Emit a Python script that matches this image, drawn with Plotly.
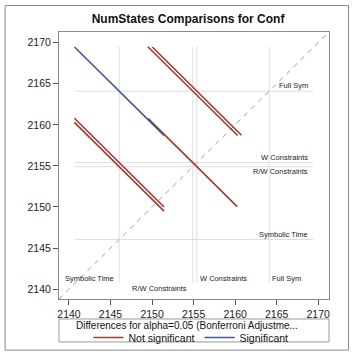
import plotly.graph_objects as go

# ---- data ----
levels = ["Symbolic Time", "R/W Constraints", "W Constraints", "Full Sym"]
means = [2146.05, 2154.9, 2155.4, 2164.1]
pair_i = [0, 0, 0, 1, 1, 2]
pair_j = [1, 2, 3, 2, 3, 3]
half_len = [5.40, 5.40, 5.38, 5.35, 5.40, 5.37]
significant = [False, False, True, False, False, False]
ticks = [2140, 2145, 2150, 2155, 2160, 2165, 2170]

RED = "#A23A2E"
BLUE = "#445694"
GRID = "#DEDEDE"
LO, HI = 2138.8, 2171.3
FONT = "Liberation Sans, Arial, sans-serif"
W, H = 354, 357

fig = go.Figure()

# reference lines at level means
for m in means:
    fig.add_shape(type="line", xref="x", yref="y", x0=m, x1=m, y0=2140.8, y1=2169.5,
                  line=dict(color=GRID, width=1), layer="below")
    fig.add_shape(type="line", xref="x", yref="y", y0=m, y1=m, x0=2140.7, x1=2169.4,
                  line=dict(color=GRID, width=1), layer="below")

# diagonal
fig.add_trace(go.Scatter(x=[LO, HI], y=[LO, HI], mode="lines",
                         line=dict(color="#A0A0A0", width=1, dash="5px,5px"),
                         showlegend=False, hoverinfo="skip"))

# segments: non-significant first, then significant
shown = {False: False, True: False}
for sig in (False, True):
    for a, b, h, s in zip(pair_i, pair_j, half_len, significant):
        if s != sig:
            continue
        xm, ym = means[a], means[b]
        fig.add_trace(go.Scatter(
            x=[xm - h, xm + h], y=[ym + h, ym - h], mode="lines",
            line=dict(color=BLUE if s else RED, width=1.6),
            name="Significant" if s else "Not significant",
            legendgroup="sig" if s else "ns",
            showlegend=not shown[s], hoverinfo="skip"))
        shown[s] = True

ann = []
lab_font = dict(family=FONT, size=7.5, color="#222222")
# bottom labels
ann.append(dict(x=means[0], y=2141.28, text=levels[0], xanchor="right", xshift=-3, showarrow=False, font=lab_font))
ann.append(dict(x=means[1], y=2140.12, text=levels[1], xanchor="right", xshift=-4, showarrow=False, font=lab_font))
ann.append(dict(x=means[2], y=2141.25, text=levels[2], xanchor="left", xshift=1, showarrow=False, font=lab_font))
ann.append(dict(x=means[3], y=2141.35, text=levels[3], xanchor="left", xshift=1, showarrow=False, font=lab_font))
# right labels
ann.append(dict(x=2169.0, y=means[3], text=levels[3], xanchor="right", yshift=6, showarrow=False, font=lab_font))
ann.append(dict(x=2169.0, y=means[2], text=levels[2], xanchor="right", yshift=5, showarrow=False, font=lab_font))
ann.append(dict(x=2169.0, y=means[1], text=levels[1], xanchor="right", yshift=-5, showarrow=False, font=lab_font))
ann.append(dict(x=2169.0, y=means[0], text=levels[0], xanchor="right", yshift=5, showarrow=False, font=lab_font))
for a in ann:
    a.update(xref="x", yref="y")

# legend title
ann.append(dict(xref="paper", yref="paper", x=0.475, y=(299.3 - 326.0) / 267.3,
                text="Differences for alpha=0.05 (Bonferroni Adjustme...",
                showarrow=False, xanchor="center", yanchor="middle",
                font=dict(family=FONT, size=10, color="#111111")))

shapes_extra = [
    # outer border
    dict(type="rect", xref="paper", yref="paper", x0=-0.1995, x1=1.0723, y0=-0.1915, y1=1.0991,
         line=dict(color="#8A8A8A", width=1)),
    # legend box
    dict(type="rect", xref="paper", yref="paper", x0=0, x1=1, y0=(299.3 - 342.3) / 267.3,
         y1=(299.3 - 319.3) / 267.3, line=dict(color="#9A9A9A", width=1)),
]
for s in shapes_extra:
    fig.add_shape(**s)

axis_common = dict(range=[LO, HI], tickvals=ticks, ticks="outside", ticklen=5, tickwidth=1,
                   tickcolor="#555555", showgrid=False, zeroline=False, showline=True,
                   linecolor="#8A8A8A", linewidth=1, mirror=True,
                   tickfont=dict(family=FONT, size=10.5, color="#222222"))

fig.update_layout(
    width=W, height=H,
    margin=dict(l=59, r=25, t=32, b=58, pad=0, autoexpand=False),
    paper_bgcolor="white", plot_bgcolor="white",
    title=dict(text="<b>NumStates Comparisons for Conf</b>", x=0.478, xref="paper", xanchor="center",
               y=1 - 19 / H, yref="container", yanchor="middle",
               font=dict(family=FONT, size=12, color="#111111")),
    xaxis=axis_common, yaxis=axis_common,
    showlegend=True,
    legend=dict(orientation="h", xref="container", yref="container",
                x=191 / W, xanchor="center", y=1 - 337.5 / H, yanchor="middle",
                font=dict(family=FONT, size=10.5, color="#111111"), bgcolor="rgba(0,0,0,0)",
                itemwidth=30, traceorder="normal"),
    annotations=ann,
)

fig.write_html("out.html")
